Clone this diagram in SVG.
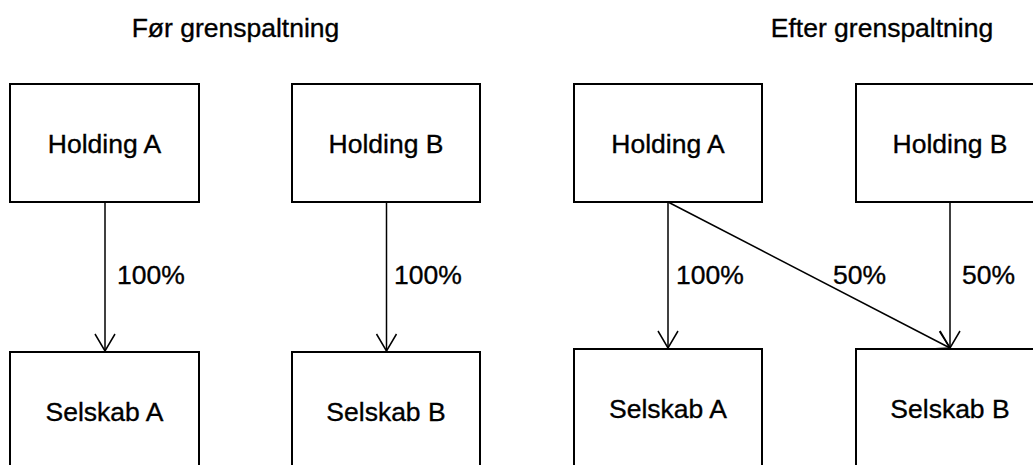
<svg xmlns="http://www.w3.org/2000/svg" width="1033" height="465" viewBox="0 0 1033 465">
<style>
.box{fill:#fff;stroke:#000;stroke-width:2}
.t{font-family:"Liberation Sans",Arial,sans-serif;font-size:26.5px;fill:#000;stroke:#000;stroke-width:0.35}
.c{text-anchor:middle}
.ln{stroke:#000;stroke-width:1.5;fill:none;marker-end:url(#arr)}
</style>
<defs>
<marker id="arr" markerUnits="userSpaceOnUse" markerWidth="20" markerHeight="22" viewBox="-18 -11 20 22" refX="0" refY="0" orient="auto" overflow="visible">
<path d="M-17,-10 L0,0 L-17,10" fill="none" stroke="#000" stroke-width="1.5"/>
</marker>
</defs>
<rect width="1033" height="465" fill="#fff"/>
<text class="t c" x="235.5" y="37">Før grenspaltning</text>
<text class="t c" x="882" y="37">Efter grenspaltning</text>
<g id="connectors">
<line class="ln" x1="105" y1="202" x2="105" y2="351"/>
<line class="ln" x1="386.5" y1="202" x2="386.5" y2="351"/>
<line class="ln" x1="668" y1="202" x2="668" y2="348"/>
<line class="ln" x1="668" y1="202" x2="950" y2="348"/>
<line class="ln" x1="950" y1="202" x2="950" y2="348"/>
<text class="t" x="117" y="284">100%</text>
<text class="t" x="394" y="284">100%</text>
<text class="t" x="676" y="284">100%</text>
<text class="t" x="833" y="284">50%</text>
<text class="t" x="962" y="284">50%</text>
</g>
<g id="before-holding-a"><rect class="box" x="10" y="84" width="189" height="118"/><text class="t c" x="104.5" y="153">Holding A</text></g>
<g id="before-holding-b"><rect class="box" x="292" y="84" width="188" height="118"/><text class="t c" x="386" y="153">Holding B</text></g>
<g id="before-selskab-a"><rect class="box" x="10" y="352" width="189" height="118"/><text class="t c" x="104.5" y="421">Selskab A</text></g>
<g id="before-selskab-b"><rect class="box" x="292" y="352" width="188" height="118"/><text class="t c" x="386" y="421">Selskab B</text></g>
<g id="after-holding-a"><rect class="box" x="574" y="84" width="188" height="118"/><text class="t c" x="668" y="153">Holding A</text></g>
<g id="after-holding-b"><rect class="box" x="856" y="84" width="188" height="118"/><text class="t c" x="950" y="153">Holding B</text></g>
<g id="after-selskab-a"><rect class="box" x="574" y="349" width="188" height="118"/><text class="t c" x="668" y="418">Selskab A</text></g>
<g id="after-selskab-b"><rect class="box" x="856" y="349" width="188" height="118"/><text class="t c" x="950" y="418">Selskab B</text></g>
</svg>
